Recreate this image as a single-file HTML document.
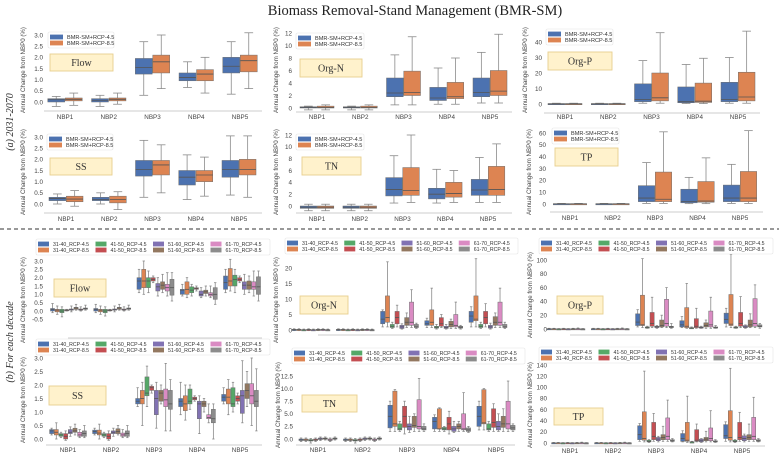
<!DOCTYPE html>
<html><head><meta charset="utf-8">
<style>
html,body{margin:0;padding:0;background:#fff;}
svg{display:block;font-family:"Liberation Sans",sans-serif;}
</style></head>
<body>
<svg id="fig" width="779" height="459" viewBox="0 0 779 459" xmlns="http://www.w3.org/2000/svg">
<text x="415" y="15" text-anchor="middle" font-family="Liberation Serif, serif" font-size="14.5" fill="#222">Biomass Removal-Stand Management (BMR-SM)</text>
<text transform="translate(13,122) rotate(-90)" text-anchor="middle" font-family="Liberation Serif, serif" font-style="italic" font-size="10" fill="#333">(a) 2031-2070</text>
<text transform="translate(13,342) rotate(-90)" text-anchor="middle" font-family="Liberation Serif, serif" font-style="italic" font-size="10" fill="#333">(b) For each decade</text>
<line x1="0" y1="229" x2="779" y2="229" stroke="#333" stroke-width="1" stroke-dasharray="4,3"/>
</svg>
<script>
const cats = ["NBP1","NBP2","NBP3","NBP4","NBP5"];
const legendA = ["BMR-SM+RCP-4.5","BMR-SM+RCP-8.5"];
const legendB = ["31-40_RCP-4.5","31-40_RCP-8.5","41-50_RCP-4.5","41-50_RCP-8.5","51-60_RCP-4.5","51-60_RCP-8.5","61-70_RCP-4.5","61-70_RCP-8.5"];

// ---- (a) data: [min,q1,median,q3,max] per category
const flowA_45 = [[-0.2,0.0,0.1,0.15,0.25],[-0.2,0.0,0.08,0.15,0.3],[0.3,1.25,1.55,1.95,2.7],[0.65,0.95,1.1,1.3,1.8],[0.35,1.3,1.6,2.0,2.7]];
const flowA_85 = [[-0.15,0.05,0.12,0.18,0.4],[-0.1,0.05,0.12,0.18,0.4],[0.6,1.3,1.8,2.1,3.0],[0.4,0.95,1.25,1.45,2.0],[0.6,1.35,1.85,2.1,3.1]];
const ssA_45 = [[0,0.15,0.25,0.3,0.45],[0,0.15,0.2,0.3,0.5],[0.3,1.25,1.55,1.95,2.85],[0.2,0.85,1.2,1.5,2.2],[0.4,1.2,1.55,1.95,3.05]];
const ssA_85 = [[-0.1,0.1,0.22,0.35,0.6],[-0.25,0.05,0.2,0.35,0.55],[0.5,1.3,1.75,1.95,2.65],[0.35,1.0,1.3,1.5,2.1],[0.3,1.3,1.55,2.0,3.05]];
const orgnA_45 = [[-0.3,0,0.1,0.2,0.3],[-0.3,0,0.1,0.2,0.3],[0.5,1.8,2.4,4.8,8.5],[0.6,1.2,1.6,3.3,6.4],[0.8,1.8,2.5,4.8,8.9]];
const orgnA_85 = [[-0.3,0,0.1,0.3,0.5],[-0.3,0,0.1,0.3,0.5],[0.5,2.0,2.5,5.9,11.4],[0.6,1.5,1.8,4.1,8.0],[0.8,2.0,2.7,6.0,11.8]];
const tnA_45 = [[-0.8,-0.4,-0.2,0,0.3],[-0.8,-0.4,-0.2,0,0.3],[0.5,1.7,2.8,4.8,8.5],[0.5,1.2,2.0,3.0,6.2],[0.6,1.8,2.7,4.5,8.2]];
const tnA_85 = [[-0.8,-0.4,-0.2,0,0.3],[-0.8,-0.4,-0.2,0,0.3],[0.6,1.8,2.6,6.5,12],[0.6,1.5,2.1,4.0,6.0],[0.6,1.8,2.8,6.7,10.5]];
const orgpA_45 = [[0,0,0.1,0.3,0.5],[0,0,0.1,0.3,0.5],[0.5,1.5,3,13,28],[0.3,0.8,1.5,11,25.5],[0.5,1.5,3,14,30]];
const orgpA_85 = [[0,0,0.1,0.3,0.5],[0,0,0.1,0.3,0.5],[0.5,2,4,20,46],[0.3,1,1.8,13.5,29.5],[0.5,2,4.5,20.5,47]];
const tpA_45 = [[0,0,0.1,0.3,0.5],[0,0,0.1,0.3,0.5],[0.5,2,5,15.5,35],[0.3,1,2,12.5,22.5],[0.5,2,5,16,33.5]];
const tpA_85 = [[0,0,0.1,0.3,0.5],[0,0,0.1,0.3,0.5],[0.5,2,4,27,61],[0.3,1.5,2.5,19,39],[0.5,2,5,27.5,62]];

// ---- (b) data: per category, 8 boxes in legend order
const flowB_NBP1 = [[-0.1,0,0.1,0.15,0.45],[-0.2,-0.05,0.05,0.1,0.3],[-0.35,-0.1,0,0.1,0.25],[0,0.03,0.05,0.08,0.1],[-0.05,0.05,0.1,0.12,0.3],[0.05,0.1,0.18,0.22,0.4],[0,0.05,0.08,0.12,0.25],[0.05,0.1,0.15,0.18,0.35]];
const flowB_NBP2 = [[-0.1,0,0.1,0.15,0.4],[-0.2,-0.05,0.05,0.1,0.3],[-0.3,-0.1,0,0.1,0.25],[0,0.03,0.05,0.08,0.1],[-0.05,0.05,0.1,0.12,0.3],[0.05,0.1,0.18,0.22,0.4],[0,0.05,0.08,0.12,0.25],[0.05,0.1,0.15,0.18,0.35]];
const flowB_NBP3 = [[1.1,1.3,1.8,2.0,2.5],[1.0,1.4,1.8,2.5,3.0],[1.1,1.4,1.8,2.0,2.4],[1.7,1.8,1.9,2.0,2.1],[0.9,1.2,1.45,1.65,2.0],[1.1,1.3,1.55,1.75,2.2],[0.9,1.2,1.4,1.6,2.3],[0.6,0.95,1.4,1.9,2.3]];
const flowB_NBP4 = [[0.9,1.0,1.25,1.3,1.6],[0.8,1.0,1.3,1.75,2.0],[0.9,1.1,1.25,1.45,1.6],[1.2,1.3,1.35,1.4,1.5],[0.8,0.9,1.0,1.2,1.4],[0.9,1.05,1.15,1.25,1.5],[0.8,0.9,1.0,1.1,1.5],[0.4,0.7,1.0,1.4,1.7]];
const flowB_NBP5 = [[1.1,1.3,1.7,2.1,2.5],[1.2,1.5,1.8,2.55,3.1],[1.1,1.5,1.9,2.15,2.5],[1.7,1.8,1.9,2.0,2.1],[1.0,1.3,1.55,1.75,2.2],[1.1,1.3,1.55,1.8,2.1],[0.9,1.3,1.45,1.75,2.4],[0.6,1.0,1.45,2.05,2.4]];
const ssB_NBP1 = [[0.15,0.2,0.3,0.35,0.4],[0,0.15,0.25,0.35,0.6],[0.05,0.1,0.15,0.2,0.25],[-0.05,0,0.1,0.2,0.3],[0.1,0.2,0.25,0.35,0.45],[0.15,0.25,0.3,0.4,0.55],[0.05,0.1,0.15,0.25,0.35],[0.05,0.1,0.2,0.3,0.5]];
const ssB_NBP2 = [[0.15,0.2,0.28,0.33,0.4],[0,0.15,0.22,0.33,0.55],[0.05,0.1,0.15,0.2,0.25],[-0.05,0,0.1,0.2,0.3],[0.1,0.2,0.25,0.3,0.4],[0.15,0.2,0.28,0.38,0.5],[0.05,0.1,0.15,0.22,0.35],[0.05,0.1,0.2,0.3,0.5]];
const ssB_NBP3 = [[1.2,1.3,1.4,1.5,1.9],[0.5,1.3,1.5,1.8,2.1],[1.2,1.6,1.7,2.3,2.7],[1.7,1.8,1.9,1.95,2.0],[0.4,0.9,1.5,1.8,2.1],[1.3,1.4,1.7,1.8,2.0],[0.3,1.2,1.45,1.85,2.8],[0.3,1.1,1.3,1.8,2.2]];
const ssB_NBP4 = [[0.9,1.2,1.4,1.5,2.1],[0.7,1.05,1.3,1.6,2.0],[1.1,1.3,1.4,1.85,2.0],[1.4,1.45,1.5,1.55,1.6],[0.2,0.75,1.3,1.4,1.6],[1.0,1.2,1.3,1.4,1.5],[0.6,0.75,0.8,0.9,1.3],[0.0,0.6,0.75,1.1,1.3]];
const ssB_NBP5 = [[1.3,1.4,1.55,1.65,1.9],[0.9,1.3,1.55,1.85,2.2],[1.0,1.2,1.3,1.9,2.1],[1.3,1.4,1.5,1.6,1.7],[0.6,0.95,1.6,1.8,2.9],[1.2,1.5,1.8,2.05,2.5],[0.5,1.3,1.6,2.05,3.0],[0.3,1.2,1.4,1.8,2.6]];
const orgnB_NBP1 = [[-0.2,0,0.1,0.2,0.4],[-0.2,0,0.1,0.2,0.4],[-0.2,0,0.05,0.1,0.3],[-0.2,0,0.1,0.2,0.4],[-0.2,0,0.05,0.1,0.3],[-0.2,0,0.1,0.2,0.4],[-0.2,0,0.1,0.2,0.4],[-0.2,0,0.05,0.1,0.3]];
const orgnB_NBP2 = [[-0.2,0,0.1,0.2,0.4],[-0.2,0,0.1,0.2,0.4],[-0.2,0,0.05,0.1,0.3],[-0.2,0,0.1,0.2,0.4],[-0.2,0,0.05,0.1,0.3],[-0.2,0,0.1,0.2,0.4],[-0.2,0,0.1,0.2,0.4],[-0.2,0,0.05,0.1,0.3]];
const orgnB_NBP3 = [[1,2,3.5,6,6.5],[1,2.5,4,11,22],[0.5,0.8,1.2,1.8,2.5],[1,2,4,6,8],[0.3,0.5,1,1.5,2],[0.8,1.5,2.5,4,5.5],[0.8,1.5,2.5,9,13],[0.5,0.8,1,1.8,2.2]];
const orgnB_NBP4 = [[0.8,1.5,2,3,3.8],[0.8,1.5,2.5,6.5,13.5],[0.3,0.6,0.9,1.2,1.8],[0.8,1.2,2,4,5],[0.3,0.5,0.8,1.2,1.8],[0.5,1,1.8,2.8,3.5],[0.5,1,1.5,5,9],[0.3,0.6,0.9,1.2,1.5]];
const orgnB_NBP5 = [[1,2.5,4.5,6,7.5],[1,3,3.5,11,23],[0.5,0.8,1.2,1.8,2.5],[1,2,4,6,8.5],[0.3,0.6,1,1.5,2.2],[0.8,1.5,2.5,4.3,5.5],[0.8,1.5,2.5,9,13.5],[0.5,0.8,1,1.8,2.5]];
const tnB_NBP1 = [[-0.5,-0.3,-0.2,0,0.2],[-0.5,-0.3,-0.2,0,0.2],[-0.8,-0.4,-0.3,-0.1,0.1],[-0.5,-0.3,-0.2,0,0.2],[-0.3,-0.1,0,0.2,0.4],[-0.2,0,0.1,0.2,0.4],[-0.5,-0.3,-0.2,0,0.2],[-0.2,0,0.1,0.2,0.4]];
const tnB_NBP2 = [[-0.5,-0.3,-0.2,0,0.2],[-0.5,-0.3,-0.2,0,0.2],[-0.8,-0.4,-0.3,-0.1,0.1],[-0.5,-0.3,-0.2,0,0.2],[-0.3,-0.1,0,0.2,0.4],[-0.2,0,0.1,0.2,0.4],[-0.5,-0.3,-0.2,0,0.2],[-0.2,0,0.1,0.2,0.4]];
const tnB_NBP3 = [[1.5,2.2,4.5,6.7,7.5],[1.5,2.5,3,9.5,9.8],[1.5,1.8,2,3,3.5],[1,2.3,4.5,6.5,7.5],[1.3,1.8,2.5,3,4.5],[1.5,2.3,2.7,4.5,5],[1.5,2,2.5,7.8,12],[1.5,1.8,2,2.5,3]];
const tnB_NBP4 = [[1.5,2,3.5,4.3,4.8],[1.5,2,2,6,6.2],[1.5,1.8,2,2.3,2.5],[1,1.8,3,4.3,5.5],[1.3,1.5,2,2.5,3.5],[1.5,2,2.5,3,3.5],[1.5,1.8,2,5,9.2],[1.3,1.5,1.8,2.2,2.5]];
const tnB_NBP5 = [[1.8,2.5,4.5,6.5,7.5],[1.8,3,3.2,9.8,10],[1.5,1.8,2,3,3.5],[1.5,2.3,3.3,6,7],[1.5,1.8,2.5,3.5,5],[1.5,2.3,3,4.5,6],[1.5,2,3,7.5,11.5],[1.5,1.8,2.2,2.7,3]];
const orgpB_NBP1 = [[0,0,0.2,0.5,1],[0,0,0.2,0.5,1],[0,0,0.1,0.3,0.6],[0,0,0.2,0.5,1],[0,0,0.1,0.3,0.6],[0,0,0.2,0.5,1],[0,0,0.2,0.5,1.5],[0,0,0.1,0.3,0.6]];
const orgpB_NBP2 = [[0,0,0.2,0.5,1],[0,0,0.2,0.5,1],[0,0,0.1,0.3,0.6],[0,0,0.2,0.5,1],[0,0,0.1,0.3,0.6],[0,0,0.2,0.5,1],[0,0,0.2,0.5,1.5],[0,0,0.1,0.3,0.6]];
const orgpB_NBP3 = [[3,5,10,22,28],[2,5,6,49,102],[1,2,2,3,4],[2,4,8,24,46],[1,2,3,4,5],[2,3,5,13,20],[2,4,8,43,60],[1,2,3,4,8]];
const orgpB_NBP4 = [[2,3,6,12,18],[1,2,4,31,66],[1,1,1.5,2,3],[1,2,4,15,30],[1,1.5,2,3,4],[1,3,5,9,13],[1,3,6,26,46],[1,1.5,2,3,5]];
const orgpB_NBP5 = [[3,8,14,23,30],[2,5,7,50,108],[1,2,2,3,4],[2,4,8,24,47],[1,2,3,5,6],[2,3,6,13,22],[2,4,8,44,64],[1,3,4,6,8]];
const tpB_NBP1 = [[0,0,0.2,0.5,1],[0,0,0.2,0.5,1],[0,0,0.1,0.3,0.6],[0,0,0.2,0.5,1],[0,0,0.1,0.3,0.6],[0,0,0.2,0.5,1],[0,0,0.2,0.5,1.5],[0,0,0.1,0.3,0.6]];
const tpB_NBP2 = [[0,0,0.2,0.5,1],[0,0,0.2,0.5,1],[0,0,0.1,0.3,0.6],[0,0,0.2,0.5,1],[0,0,0.1,0.3,0.6],[0,0,0.2,0.5,1],[0,0,0.2,0.5,1.5],[0,0,0.1,0.3,0.6]];
const tpB_NBP3 = [[3,6,15,31,35],[2,5,8,56,129],[1,2,3,5,6],[3,6,12,37,53],[2,4,7,10,12],[3,6,10,15,30],[3,6,12,45,77],[2,3,4,6,8]];
const tpB_NBP4 = [[2,3,8,17,22],[1,3,5,37,84],[1,1,2,2,3],[2,3,5,24,34],[1,2,4,7,8],[2,4,7,10,21],[2,4,8,27,58],[1,2,3,4,6]];
const tpB_NBP5 = [[3,8,13,33,38],[2,5,10,58,134],[1,2,3,5,6],[3,6,10,37,55],[2,4,8,13,16],[3,6,10,15,34],[3,6,12,46,82],[2,3,4,6,8]];

// ---- tick labels
const ticksFlowA = [0,0.5,1,1.5,2,2.5,3];
const ticksOrgA = [0,2,4,6,8,10,12];
const ticksOrgPA = [0,10,20,30,40];
const ticksTPA = [0,10,20,30,40,50,60];
const ticksFlowB = [-0.5,0,0.5,1,1.5,2,2.5,3];
const ticksSSB = [0,0.5,1,1.5,2,2.5,3];
const ticksOrgNB = [0,5,10,15,20];
const ticksTNB = [0,2.5,5,7.5,10,12.5];
const ticksOrgPB = [0,20,40,60,80,100];
const ticksTPB = [0,20,40,60,80,100,120,140];

const colA = ["#4c72b0","#dd8452"];
const colB = ["#4c72b0","#dd8452","#55a868","#c44e52","#8172b3","#937860","#da8bc3","#8c8c8c"];
const NS = "http://www.w3.org/2000/svg";
const svg = document.getElementById("fig");
function mk(tag, attrs, parent){
  const e = document.createElementNS(NS, tag);
  for (const k in attrs) e.setAttribute(k, attrs[k]);
  (parent||svg).appendChild(e);
  return e;
}
function fmt(v, dec){ return dec ? v.toFixed(dec) : String(v); }

function drawPanel(c, groups, legendNames, colors){
  const g = mk("g", {});
  
  
  const ys = v => c.pA + (v - c.vA) * (c.pB - c.pA) / (c.vB - c.vA);
  const step = (c.cLast - c.cFirst) / (cats.length - 1);
  const xc = i => c.cFirst + i * step;
  c.ticks.forEach(t => {
    const tl = mk("text", {x: c.tickX, y: ys(t) + 2.3, "text-anchor": "end", "font-size": 6.3, fill: "#444"}, g);
    
    
    tl.textContent = fmt(t, c.dec);
  });
  const yt = mk("text", {transform: `translate(${c.titleX},${c.titleY}) rotate(-90)`, "text-anchor": "middle", "font-size": 6.2, fill: "#444"}, g);
  
  
  yt.textContent = "Annual Change from NBP0 (%)";
  const ax = mk("line", {x1: c.axX1, x2: c.axX2, y1: c.axY, y2: c.axY, stroke: "#bbb", "stroke-width": 0.8}, g);
  
  
  const ns = colors.length;
  const gw = step * c.gFrac;
  const bw = gw / ns;
  groups.forEach((grp, i) => {
    grp.forEach((b, s) => {
      const x = xc(i) - gw / 2 + s * bw;
      const cx = x + bw / 2;
      const wl = mk("line", {x1: cx, x2: cx, y1: ys(b[4]), y2: ys(b[0]), stroke: "#8a8a8a", "stroke-width": 0.8}, g);
      
      
      [b[0], b[4]].forEach(v => {
        const cap = mk("line", {x1: cx - bw * 0.25, x2: cx + bw * 0.25, y1: ys(v), y2: ys(v), stroke: "#8a8a8a", "stroke-width": 0.8}, g);
        
        
      });
      const top = ys(b[3]), bot = ys(b[1]);
      const r = mk("rect", {x: x + 0.3, y: Math.min(top, bot), width: Math.max(bw - 0.6, 0.5), height: Math.max(Math.abs(bot - top), 1.2), fill: colors[s], stroke: "#6d6d6d", "stroke-width": 0.5}, g);
      
      
      const md = mk("line", {x1: x + 0.3, x2: x + bw - 0.3, y1: ys(b[2]), y2: ys(b[2]), stroke: "#555", "stroke-width": 0.8}, g);
      
      
    });
    if (c.xLabels) {
      const xl = mk("text", {x: xc(i), y: c.xLabY, "text-anchor": "middle", "font-size": 6.3, fill: "#444"}, g);
      
      
      xl.textContent = cats[i];
    }
  });
  const lb = c.lab;
  const lr = mk("rect", {x: lb[0], y: lb[1], width: lb[2], height: lb[3], fill: "#fff2cc", stroke: "#e8cf8e", "stroke-width": 0.9}, g);
  
  
  const lt = mk("text", {x: lb[0] + lb[2] / 2, y: lb[1] + lb[3] / 2 + 3.5, "text-anchor": "middle", "font-family": "Liberation Serif, serif", "font-size": 10, fill: "#333"}, g);
  
  
  lt.textContent = c.title;
  const L = c.leg;
  const lg = mk("g", {}, g);
  
  
  mk("rect", {x: L[0], y: L[1], width: L[2], height: L[3], fill: "#fff", stroke: "#e4e4e4", "stroke-width": 0.6, rx: 1.5}, lg);
  const multi = legendNames.length > 2;
  const cols = multi ? 4 : 1;
  const colW = (L[2] - 4) / cols;
  const swW = multi ? 11 : 13;
  const fs = multi ? 5.2 : 5.6;
  legendNames.forEach((n, k) => {
    const col = Math.floor(k / 2), row = k % 2;
    const rowH = (L[3] - 4) / 2;
    const ex = L[0] + 2 + col * colW, ey = L[1] + 2 + row * rowH;
    const sw = mk("rect", {x: ex, y: ey + rowH / 2 - 2.4, width: swW, height: 4.8, fill: colors[k]}, lg);
    
    
    const tx = mk("text", {x: ex + swW + 4, y: ey + rowH / 2 + 2, "font-size": fs, fill: "#333"}, lg);
    
    
    tx.textContent = n;
  });
}
const zipA = (a, b) => cats.map((_, i) => [a[i], b[i]]);

drawPanel({name:"flow-a", title:"Flow", vA:0, vB:3, pA:102, pB:35, ticks:ticksFlowA, dec:1, tickX:43, titleX:25, titleY:70, cFirst:65, cLast:240, gFrac:0.8, axX1:44, axX2:262, axY:111, xLabels:true, xLabY:119, lab:[50,54,63,17], leg:[48,32,66,16]}, zipA(flowA_45, flowA_85), legendA, colA);
drawPanel({name:"ss-a", title:"SS", vA:0, vB:3, pA:204, pB:137, ticks:ticksFlowA, dec:1, tickX:43, titleX:25, titleY:172, cFirst:66, cLast:239, gFrac:0.8, axX1:44, axX2:262, axY:213, xLabels:true, xLabY:221, lab:[50,158,62,17], leg:[47,134,66,16]}, zipA(ssA_45, ssA_85), legendA, colA);
drawPanel({name:"orgn-a", title:"Org-N", vA:0, vB:12, pA:108, pB:33, ticks:ticksOrgA, dec:0, tickX:292, titleX:278, titleY:70, cFirst:317, cLast:490, gFrac:0.8, axX1:296, axX2:512, axY:112, xLabels:true, xLabY:119, lab:[300,59,62,18], leg:[296,33,68,16]}, zipA(orgnA_45, orgnA_85), legendA, colA);
drawPanel({name:"tn-a", title:"TN", vA:0, vB:12, pA:206, pB:135, ticks:ticksOrgA, dec:0, tickX:292, titleX:278, titleY:172, cFirst:317, cLast:488, gFrac:0.8, axX1:296, axX2:512, axY:213, xLabels:true, xLabY:221, lab:[302,157,59,18], leg:[296,134,68,16]}, zipA(tnA_45, tnA_85), legendA, colA);
drawPanel({name:"orgp-a", title:"Org-P", vA:0, vB:40, pA:104, pB:42, ticks:ticksOrgPA, dec:0, tickX:542, titleX:527, titleY:70, cFirst:565, cLast:738, gFrac:0.8, axX1:544, axX2:760, axY:113, xLabels:true, xLabY:119, lab:[548,52,64,18], leg:[546,29,67,16]}, zipA(orgpA_45, orgpA_85), legendA, colA);
drawPanel({name:"tp-a", title:"TP", vA:0, vB:60, pA:204, pB:133, ticks:ticksTPA, dec:0, tickX:546, titleX:531, titleY:172, cFirst:570, cLast:740, gFrac:0.8, axX1:550, axX2:763, axY:212, xLabels:true, xLabY:220, lab:[555,148,63,18], leg:[552,128,67,16]}, zipA(tpA_45, tpA_85), legendA, colA);

drawPanel({name:"flow-b", title:"Flow", vA:0, vB:3, pA:311, pB:261, ticks:ticksFlowB, dec:1, tickX:43, titleX:25, titleY:300, cFirst:69, cLast:242, gFrac:0.87, axX1:68, axX2:262, axY:338, xLabels:false, lab:[54,279,52,18], leg:[36,239,234,16]}, [flowB_NBP1, flowB_NBP2, flowB_NBP3, flowB_NBP4, flowB_NBP5], legendB, colB);
drawPanel({name:"ss-b", title:"SS", vA:0, vB:3, pA:439, pB:358, ticks:ticksSSB, dec:1, tickX:43, titleX:25, titleY:400, cFirst:68, cLast:240, gFrac:0.87, axX1:46, axX2:262, axY:445, xLabels:true, xLabY:452, lab:[49,386,57,19], leg:[36,339,234,16]}, [ssB_NBP1, ssB_NBP2, ssB_NBP3, ssB_NBP4, ssB_NBP5], legendB, colB);
drawPanel({name:"orgn-b", title:"Org-N", vA:0, vB:20, pA:330, pB:268, ticks:ticksOrgNB, dec:0, tickX:292, titleX:278, titleY:300, cFirst:311, cLast:488, gFrac:0.87, axX1:318, axX2:490, axY:335, xLabels:false, lab:[300,296,48,18], leg:[285,238,233,16]}, [orgnB_NBP1, orgnB_NBP2, orgnB_NBP3, orgnB_NBP4, orgnB_NBP5], legendB, colB);
drawPanel({name:"tn-b", title:"TN", vA:0, vB:12.5, pA:439, pB:376, ticks:ticksTNB, dec:1, tickX:293, titleX:280, titleY:405, cFirst:318, cLast:496, gFrac:0.87, axX1:296, axX2:515, axY:445, xLabels:true, xLabY:452, lab:[302,395,55,17], leg:[292,348,233,16]}, [tnB_NBP1, tnB_NBP2, tnB_NBP3, tnB_NBP4, tnB_NBP5], legendB, colB);
drawPanel({name:"orgp-b", title:"Org-P", vA:0, vB:100, pA:329, pB:260, ticks:ticksOrgPB, dec:0, tickX:547, titleX:532, titleY:295, cFirst:566, cLast:743, gFrac:0.87, axX1:570, axX2:760, axY:335, xLabels:false, lab:[557,296,46,18], leg:[539,238,234,16]}, [orgpB_NBP1, orgpB_NBP2, orgpB_NBP3, orgpB_NBP4, orgpB_NBP5], legendB, colB);
drawPanel({name:"tp-b", title:"TP", vA:0, vB:140, pA:443, pB:365, ticks:ticksTPB, dec:0, tickX:547, titleX:532, titleY:405, cFirst:570, cLast:742, gFrac:0.87, axX1:550, axX2:765, axY:446, xLabels:true, xLabY:453, lab:[554,408,49,17], leg:[539,347,234,16]}, [tpB_NBP1, tpB_NBP2, tpB_NBP3, tpB_NBP4, tpB_NBP5], legendB, colB);
</script>
</body></html>
